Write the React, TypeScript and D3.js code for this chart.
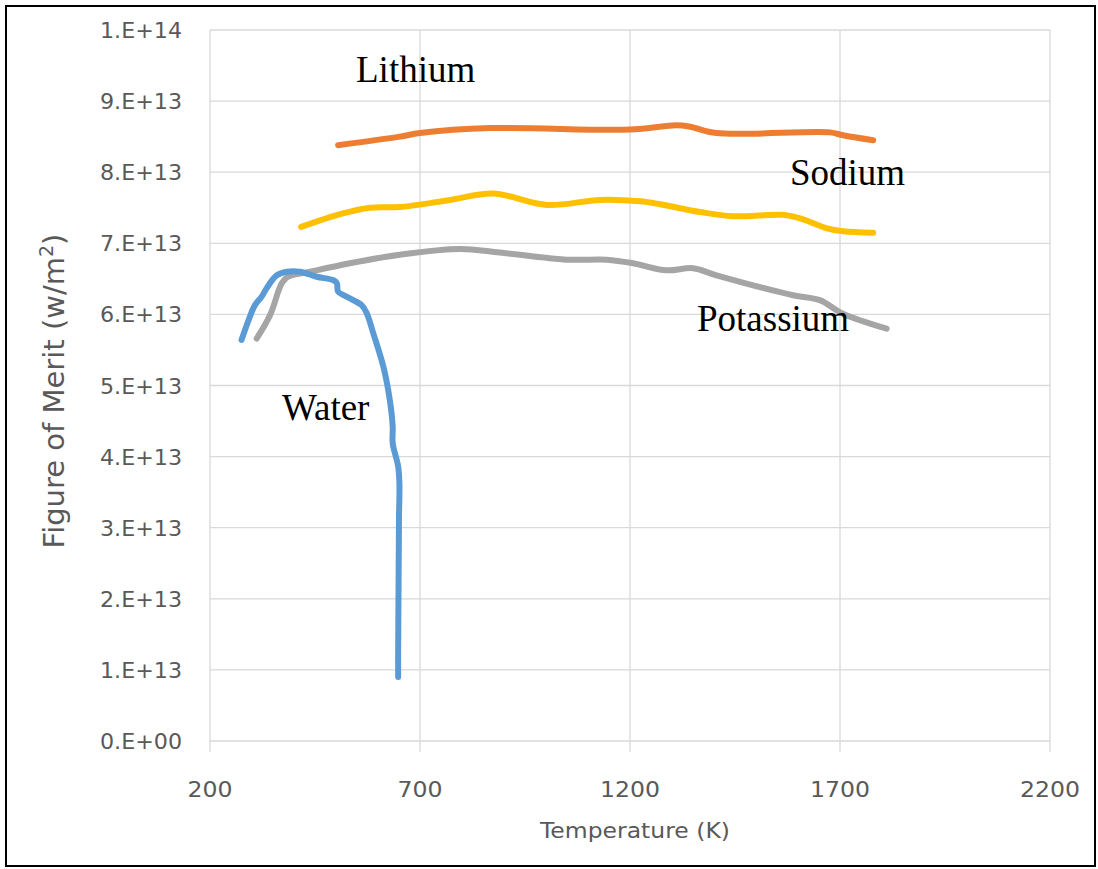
import { useEffect, useRef } from "react";
import * as d3 from "d3";

type Pt = [number, number]; // [temperature K, figure of merit in 1E13 W/m2]

const xTicks = [200, 700, 1200, 1700, 2200];
const yTicks = [0, 1, 2, 3, 4, 5, 6, 7, 8, 9, 10];
const yTickLabels = ["0.E+00", "1.E+13", "2.E+13", "3.E+13", "4.E+13", "5.E+13", "6.E+13", "7.E+13", "8.E+13", "9.E+13", "1.E+14"];

const lithium: Pt[] = [
  [505, 8.38], [652, 8.5], [700, 8.55], [867, 8.62], [1200, 8.6], [1311, 8.66],
  [1343, 8.64], [1406, 8.55], [1676, 8.56], [1707, 8.52], [1779, 8.45],
];
const sodium: Pt[] = [
  [417, 7.23], [510, 7.41], [581, 7.5], [652, 7.51], [771, 7.61], [874, 7.7],
  [1002, 7.54], [1129, 7.61], [1224, 7.59], [1271, 7.55], [1367, 7.44], [1445, 7.38],
  [1564, 7.4], [1605, 7.35], [1669, 7.21], [1707, 7.17], [1779, 7.15],
];
const potassium: Pt[] = [
  [311, 5.66], [343, 5.99], [371, 6.44], [386, 6.53], [438, 6.6], [533, 6.72],
  [652, 6.84], [795, 6.92], [890, 6.87], [1049, 6.77], [1145, 6.77], [1207, 6.72],
  [1287, 6.62], [1350, 6.65], [1406, 6.55], [1588, 6.27], [1652, 6.2], [1707, 6.01], [1811, 5.8],
];
const water: Pt[] = [
  [275, 5.64], [295, 5.97], [307, 6.13], [323, 6.25], [335, 6.37], [359, 6.55],
  [383, 6.6], [414, 6.6], [454, 6.53], [494, 6.48], [502, 6.44], [505, 6.32],
  [525, 6.25], [561, 6.13], [573, 6.02], [589, 5.73], [613, 5.26], [628, 4.8],
  [635, 4.42], [635, 4.19], [648, 3.86], [651, 3.62], [650, 3.15], [649, 2.22],
  [648, 1.28], [648, 0.9],
];

const series = [
  { name: "Lithium", data: lithium, color: "#ED7D31" },
  { name: "Sodium", data: sodium, color: "#FFC000" },
  { name: "Potassium", data: potassium, color: "#A5A5A5" },
  { name: "Water", data: water, color: "#5B9BD5" },
];

const labels = [
  { text: "Lithium", x: 356, y: 82 },
  { text: "Sodium", x: 790, y: 185 },
  { text: "Potassium", x: 697, y: 331 },
  { text: "Water", x: 282, y: 420 },
];

export default function App() {
  const ref = useRef<SVGSVGElement | null>(null);

  useEffect(() => {
    document.body.style.margin = "0";
    if (!ref.current) return;
    const svg = d3.select(ref.current);
    svg.selectAll("*").remove();

    const x = d3.scaleLinear().domain([200, 2200]).range([210, 1050]);
    const y = d3.scaleLinear().domain([0, 10]).range([741, 30]);
    const axisFont = "'DejaVu Sans', sans-serif";
    const grey = "#595959";

    svg.append("rect").attr("x", 6).attr("y", 6).attr("width", 1089).attr("height", 860)
      .attr("fill", "#fff").attr("stroke", "#000").attr("stroke-width", 2);

    // gridlines
    svg.append("g").selectAll("line").data(yTicks).join("line")
      .attr("x1", 210).attr("x2", 1050)
      .attr("y1", d => y(d)).attr("y2", d => y(d))
      .attr("stroke", "#d9d9d9").attr("stroke-width", 1.3);
    svg.append("g").selectAll("line").data(xTicks).join("line")
      .attr("x1", d => x(d)).attr("x2", d => x(d))
      .attr("y1", 30).attr("y2", 752)
      .attr("stroke", "#d9d9d9").attr("stroke-width", 1.3);

    // tick labels (the reference text is stretched horizontally)
    svg.append("g").selectAll("text").data(yTicks).join("text")
      .attr("x", 182).attr("y", d => y(d) + 8)
      .attr("text-anchor", "end")
      .attr("font-family", axisFont).attr("font-size", 21).attr("fill", grey)
      .attr("textLength", 82).attr("lengthAdjust", "spacingAndGlyphs")
      .text((d, i) => yTickLabels[i]);
    svg.append("g").selectAll("text").data(xTicks).join("text")
      .attr("x", d => x(d)).attr("y", 797)
      .attr("text-anchor", "middle")
      .attr("font-family", axisFont).attr("font-size", 21).attr("fill", grey)
      .attr("textLength", d => String(d).length * 15).attr("lengthAdjust", "spacingAndGlyphs")
      .text(d => String(d));

    // axis titles
    svg.append("text").attr("x", 635).attr("y", 838).attr("text-anchor", "middle")
      .attr("font-family", axisFont).attr("font-size", 21).attr("fill", grey)
      .attr("textLength", 190).attr("lengthAdjust", "spacingAndGlyphs")
      .text("Temperature (K)");
    const yt = svg.append("text").attr("transform", "translate(64,391) rotate(-90)")
      .attr("text-anchor", "middle")
      .attr("font-family", axisFont).attr("font-size", 29).attr("fill", grey);
    yt.append("tspan").text("Figure of Merit (w/m");
    yt.append("tspan").attr("font-size", 19).attr("dy", -11).text("2");
    yt.append("tspan").attr("dy", 11).text(")");

    // series
    const line = d3.line<Pt>().x(d => x(d[0])).y(d => y(d[1])).curve(d3.curveCatmullRom.alpha(0.5));
    svg.append("g").selectAll("path").data(series).join("path")
      .attr("d", d => line(d.data))
      .attr("fill", "none")
      .attr("stroke", d => d.color)
      .attr("stroke-width", 6)
      .attr("stroke-linecap", "round")
      .attr("stroke-linejoin", "round");

    // series labels
    svg.append("g").selectAll("text").data(labels).join("text")
      .attr("x", d => d.x).attr("y", d => d.y)
      .attr("font-family", "'Liberation Serif', 'Times New Roman', serif")
      .attr("font-size", 37).attr("fill", "#000")
      .text(d => d.text);
  }, []);

  return <svg ref={ref} width={1098} height={869} style={{ display: "block" }} />;
}
